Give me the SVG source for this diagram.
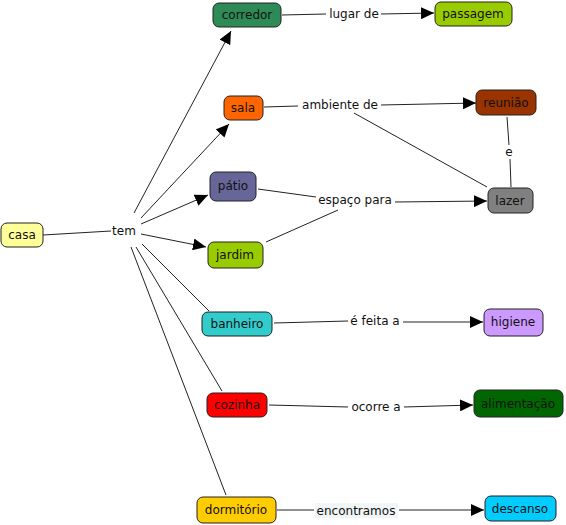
<svg xmlns="http://www.w3.org/2000/svg" width="566" height="525" viewBox="0 0 566 525">
<style>
.n rect{stroke:#222;stroke-width:1}
text{font-family:"DejaVu Sans",Verdana,sans-serif;font-size:12px;fill:#111;text-anchor:middle}
.c line{stroke:#222;stroke-width:1}
.a{marker-end:url(#ah)}
</style>
<defs>
<marker id="ah" markerUnits="userSpaceOnUse" markerWidth="14" markerHeight="12" refX="13" refY="6" orient="auto">
<path d="M0,0 L13,6 L0,12 Z" fill="#000"/>
</marker>
</defs>
<rect width="566" height="525" fill="#fff"/>
<g id="connectors" class="c">
<line x1="43" y1="235" x2="111" y2="231"/>
<line class="a" x1="134" y1="213" x2="231" y2="31"/>
<line class="a" x1="141" y1="218" x2="229" y2="124"/>
<line class="a" x1="141" y1="224" x2="208" y2="195"/>
<line class="a" x1="141" y1="234" x2="206" y2="247"/>
<line x1="142" y1="244" x2="209" y2="311"/>
<line x1="136" y1="247" x2="222" y2="391"/>
<line x1="131" y1="247" x2="226" y2="495"/>
<line x1="282" y1="15" x2="326" y2="14"/>
<line class="a" x1="381" y1="14" x2="434" y2="13"/>
<line x1="264" y1="107" x2="298" y2="106"/>
<line class="a" x1="381" y1="105" x2="476" y2="103"/>
<line x1="354" y1="113" x2="487" y2="187"/>
<line x1="507" y1="117" x2="509" y2="145"/>
<line x1="510" y1="159" x2="511" y2="187"/>
<line x1="258" y1="189" x2="316" y2="197"/>
<line x1="266" y1="242" x2="338" y2="210"/>
<line class="a" x1="395" y1="202" x2="487" y2="201"/>
<line x1="274" y1="323" x2="348" y2="321"/>
<line class="a" x1="403" y1="322" x2="483" y2="322"/>
<line x1="269" y1="405" x2="348" y2="407"/>
<line class="a" x1="404" y1="407" x2="473" y2="405"/>
<line x1="277" y1="510" x2="314" y2="510"/>
<line class="a" x1="399" y1="510" x2="484" y2="510"/>
</g>
<g id="labels">
<text x="124" y="235">tem</text>
<text x="354" y="18">lugar de</text>
<text x="340" y="109">ambiente de</text>
<text x="355" y="204">espaço para</text>
<text x="509" y="156">e</text>
<text x="375" y="325">é feita a</text>
<text x="376" y="411">ocorre a</text>
<rect x="315" y="503" width="83" height="15" fill="#f0f5f5"/>
<text x="356" y="515">encontramos</text>
</g>
<g id="casa" class="n"><rect x="1" y="223" width="42" height="24" rx="6" fill="#ffff99"/><text x="22" y="239">casa</text></g>
<g id="corredor" class="n"><rect x="213" y="3" width="68" height="24" rx="6" fill="#2e8b57"/><text x="247" y="19">corredor</text></g>
<g id="passagem" class="n"><rect x="435" y="2" width="77" height="24" rx="6" fill="#99cc00"/><text x="473" y="18">passagem</text></g>
<g id="sala" class="n"><rect x="224" y="96" width="39" height="24" rx="6" fill="#ff6600"/><text x="243" y="112">sala</text></g>
<g id="reuniao" class="n"><rect x="476" y="90" width="60" height="25" rx="6" fill="#993300"/><text x="506" y="107">reunião</text></g>
<g id="patio" class="n"><rect x="210" y="172" width="46" height="29" rx="6" fill="#666699"/><text x="233" y="190">pátio</text></g>
<g id="lazer" class="n"><rect x="488" y="188" width="45" height="25" rx="6" fill="#808080"/><text x="510" y="205">lazer</text></g>
<g id="jardim" class="n"><rect x="208" y="242" width="55" height="26" rx="6" fill="#99cc00"/><text x="235" y="259">jardim</text></g>
<g id="banheiro" class="n"><rect x="202" y="312" width="70" height="24" rx="6" fill="#33cccc"/><text x="237" y="328">banheiro</text></g>
<g id="higiene" class="n"><rect x="484" y="309" width="59" height="27" rx="6" fill="#cc99ff"/><text x="513" y="326">higiene</text></g>
<g id="cozinha" class="n"><rect x="207" y="393" width="60" height="24" rx="6" fill="#ff0000"/><text x="237" y="409">cozinha</text></g>
<g id="alimentacao" class="n"><rect x="474" y="390" width="89" height="27" rx="6" fill="#006600"/><text x="518" y="408">alimentação</text></g>
<g id="dormitorio" class="n"><rect x="197" y="497" width="79" height="26" rx="6" fill="#ffcc00"/><text x="236" y="514">dormitório</text></g>
<g id="descanso" class="n"><rect x="485" y="496" width="71" height="25" rx="6" fill="#00ccff"/><text x="520" y="513">descanso</text></g>
</svg>
